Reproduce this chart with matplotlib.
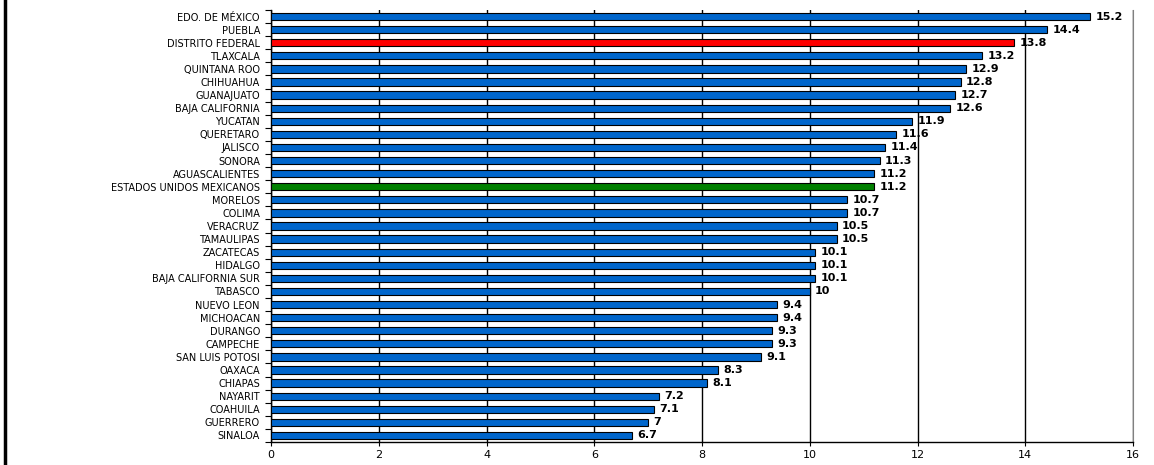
import matplotlib
matplotlib.use("Agg")
import matplotlib.pyplot as plt
from matplotlib.lines import Line2D
import numpy as np

states = ["EDO. DE MÉXICO", "PUEBLA", "DISTRITO FEDERAL", "TLAXCALA", "QUINTANA ROO",
          "CHIHUAHUA", "GUANAJUATO", "BAJA CALIFORNIA", "YUCATAN", "QUERETARO",
          "JALISCO", "SONORA", "AGUASCALIENTES", "ESTADOS UNIDOS MEXICANOS", "MORELOS",
          "COLIMA", "VERACRUZ", "TAMAULIPAS", "ZACATECAS", "HIDALGO",
          "BAJA CALIFORNIA SUR", "TABASCO", "NUEVO LEON", "MICHOACAN", "DURANGO",
          "CAMPECHE", "SAN LUIS POTOSI", "OAXACA", "CHIAPAS", "NAYARIT",
          "COAHUILA", "GUERRERO", "SINALOA"]
values = [15.2, 14.4, 13.8, 13.2, 12.9, 12.8, 12.7, 12.6, 11.9, 11.6,
          11.4, 11.3, 11.2, 11.2, 10.7, 10.7, 10.5, 10.5, 10.1, 10.1,
          10.1, 10, 9.4, 9.4, 9.3, 9.3, 9.1, 8.3, 8.1, 7.2,
          7.1, 7, 6.7]
xticks = [0, 2, 4, 6, 8, 10, 12, 14, 16]

plt.rcParams['font.family'] = ['DejaVu Sans']

fig = plt.figure(figsize=(11.54, 4.65), dpi=100)
ax = fig.add_axes([271/1154, 1-442/465, (1133-271)/1154, 432/465])

colors = []
for s in states:
    if s == "DISTRITO FEDERAL":
        colors.append("#FF0000")
    elif s == "ESTADOS UNIDOS MEXICANOS":
        colors.append("#008000")
    else:
        colors.append("#0066CC")

y = np.arange(len(states))
ax.barh(y, values, height=0.55, color=colors, edgecolor="black", linewidth=0.8, zorder=3)
for yi, v in zip(y, values):
    ax.text(v + 0.1, yi, f"{v:g}", va="center", ha="left", fontsize=8,
            fontweight="bold", zorder=4)

ax.set_ylim(len(states) - 0.5, -0.5)
ax.set_xlim(0, 16)
ax.set_yticks(y)
ax.set_yticklabels(states, fontsize=7)
ax.tick_params(axis='y', which='major', length=0, pad=8)
ax.set_yticks(np.arange(-0.5, len(states) + 0.5, 1), minor=True)
ax.tick_params(axis='y', which='minor', length=4, width=0.8, direction='out')
ax.set_xticks(xticks)
ax.set_xticklabels([str(t) for t in xticks], fontsize=8)
ax.tick_params(axis='x', length=3, width=0.8, direction='out', pad=3)
ax.grid(axis='x', color='black', linewidth=1.0, zorder=0)
ax.spines['top'].set_visible(False)
ax.spines['right'].set_color('#808080')
ax.spines['left'].set_linewidth(1.0)
ax.spines['bottom'].set_linewidth(1.0)

fig.add_artist(Line2D([4.5/1154, 4.5/1154], [0, 1], color='black', linewidth=2.5,
                      transform=fig.transFigure))

fig.savefig("out.png", dpi=100)
